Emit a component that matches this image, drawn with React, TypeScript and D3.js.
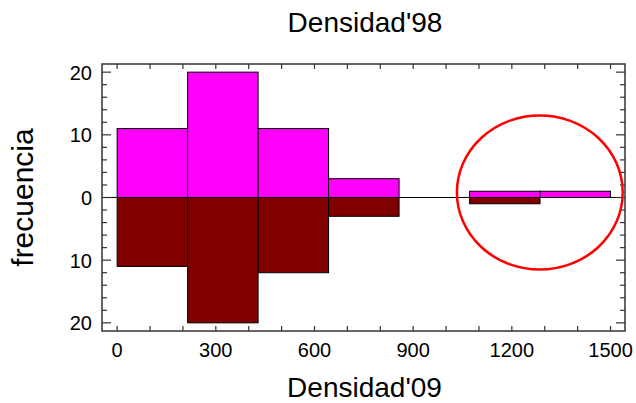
import React, { useEffect, useRef } from 'react';
import * as d3 from 'd3';

// histogram bins (Densidad, 7 equal classes from 0 to 1500)
const binEdges = [0, 214.29, 428.57, 642.86, 857.14, 1071.43, 1285.71, 1500];
const counts98 = [11, 20, 11, 3, 0, 1, 1];
const counts09 = [11, 20, 12, 3, 0, 1, 0];
const xTicks = [0, 300, 600, 900, 1200, 1500];
const yTicks = [-20, -10, 0, 10, 20];

// annotation ellipse (data units)
const ringCenter = [1285, 0.8];
const ringRadius = [252, 12.3];

const App = () => {
  const ref = useRef<SVGSVGElement>(null);

  useEffect(() => {
    const svg = d3.select(ref.current);
    svg.selectAll('*').remove();

    const width = 636;
    const height = 403;
    const left = 102, right = 625, top = 64, bottom = 331;

    svg.attr('width', width).attr('height', height);

    const x = d3.scaleLinear().domain([-46, 1544]).range([left, right]);
    const y = d3.scaleLinear().domain([-21.3, 21.3]).range([bottom, top]);

    const font = 'Liberation Sans, Arial, sans-serif';

    // zero line
    svg.append('line')
      .attr('x1', left).attr('x2', right)
      .attr('y1', y(0)).attr('y2', y(0))
      .attr('stroke', '#000').attr('stroke-width', 1);

    const bins = counts98.map((c, i) => ({ x0: binEdges[i], x1: binEdges[i + 1], up: c, down: counts09[i] }));

    svg.selectAll('.up')
      .data(bins.filter(d => d.up > 0))
      .enter().append('rect')
      .attr('class', 'up')
      .attr('x', d => x(d.x0))
      .attr('width', d => x(d.x1) - x(d.x0))
      .attr('y', d => y(d.up))
      .attr('height', d => y(0) - y(d.up))
      .attr('fill', '#ff00ff')
      .attr('stroke', '#000')
      .attr('stroke-width', 1);

    svg.selectAll('.down')
      .data(bins.filter(d => d.down > 0))
      .enter().append('rect')
      .attr('class', 'down')
      .attr('x', d => x(d.x0))
      .attr('width', d => x(d.x1) - x(d.x0))
      .attr('y', y(0))
      .attr('height', d => y(-d.down) - y(0))
      .attr('fill', '#800000')
      .attr('stroke', '#000')
      .attr('stroke-width', 1);

    // frame
    svg.append('rect')
      .attr('x', left).attr('y', top)
      .attr('width', right - left).attr('height', bottom - top)
      .attr('fill', 'none').attr('stroke', '#333').attr('stroke-width', 1.5);

    // inward ticks
    const xMinor = d3.range(0, 1501, 100);
    xMinor.forEach(v => {
      svg.append('line').attr('x1', x(v)).attr('x2', x(v)).attr('y1', bottom).attr('y2', bottom - 5)
        .attr('stroke', '#333').attr('stroke-width', 1.2);
      svg.append('line').attr('x1', x(v)).attr('x2', x(v)).attr('y1', top).attr('y2', top + 5)
        .attr('stroke', '#333').attr('stroke-width', 1.2);
    });
    const yMinor = d3.range(-20, 21, 2);
    yMinor.forEach(v => {
      const len = v % 10 === 0 ? 9 : 5;
      svg.append('line').attr('x1', left).attr('x2', left + len).attr('y1', y(v)).attr('y2', y(v))
        .attr('stroke', '#333').attr('stroke-width', 1.2);
      svg.append('line').attr('x1', right).attr('x2', right - len).attr('y1', y(v)).attr('y2', y(v))
        .attr('stroke', '#333').attr('stroke-width', 1.2);
    });

    // tick labels
    svg.selectAll('.xl')
      .data(xTicks)
      .enter().append('text')
      .attr('x', d => x(d))
      .attr('y', 357)
      .attr('text-anchor', 'middle')
      .style('font-family', font)
      .style('font-size', '20px')
      .text(d => d);

    svg.selectAll('.yl')
      .data(yTicks)
      .enter().append('text')
      .attr('x', 92)
      .attr('y', d => y(d) + 7.5)
      .attr('text-anchor', 'end')
      .style('font-family', font)
      .style('font-size', '20px')
      .text(d => Math.abs(d));

    // titles
    svg.append('text')
      .attr('x', 365).attr('y', 32)
      .attr('text-anchor', 'middle')
      .style('font-family', font).style('font-size', '28px')
      .text("Densidad'98");

    svg.append('text')
      .attr('x', 364.5).attr('y', 397)
      .attr('text-anchor', 'middle')
      .style('font-family', font).style('font-size', '28px')
      .text("Densidad'09");

    svg.append('text')
      .attr('transform', `translate(33, 197.5) rotate(-90)`)
      .attr('text-anchor', 'middle')
      .style('font-family', font).style('font-size', '30px')
      .text('frecuencia');

    // red ring annotation
    svg.append('ellipse')
      .attr('cx', x(ringCenter[0]))
      .attr('cy', y(ringCenter[1]))
      .attr('rx', x(ringRadius[0]) - x(0))
      .attr('ry', y(0) - y(ringRadius[1]))
      .attr('fill', 'none')
      .attr('stroke', '#ff0000')
      .attr('stroke-width', 2.5);
  }, []);

  return <svg ref={ref} style={{ position: 'absolute', left: 0, top: 0, display: 'block' }}></svg>;
};

export default App;
